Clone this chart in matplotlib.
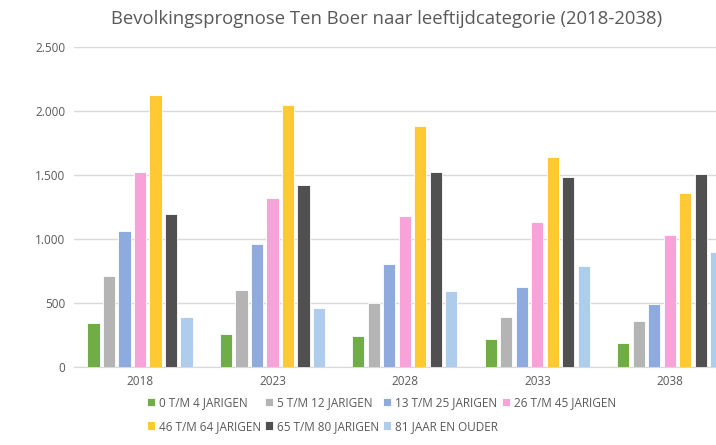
import matplotlib.pyplot as plt
import numpy as np

jaren = ["2018", "2023", "2028", "2033", "2038"]
categorieen = ["0 T/M 4 JARIGEN", "5 T/M 12 JARIGEN", "13 T/M 25 JARIGEN", "26 T/M 45 JARIGEN",
               "46 T/M 64 JARIGEN", "65 T/M 80 JARIGEN", "81 JAAR EN OUDER"]

aantallen = {
    "0 T/M 4 JARIGEN": [345, 260, 245, 220, 190],
    "5 T/M 12 JARIGEN": [710, 605, 500, 395, 360],
    "13 T/M 25 JARIGEN": [1065, 960, 805, 625, 495],
    "26 T/M 45 JARIGEN": [1525, 1320, 1180, 1135, 1030],
    "46 T/M 64 JARIGEN": [2130, 2050, 1885, 1645, 1360],
    "65 T/M 80 JARIGEN": [1200, 1425, 1525, 1485, 1510],
    "81 JAAR EN OUDER": [390, 460, 595, 790, 900],
}

colors = ['#70AD47', '#B4B4B4', '#8FAADC', '#F7A3DA', '#FFC933', '#505050', '#AECDEC']

plt.rcParams['font.family'] = ['Open Sans', 'DejaVu Sans']

fig = plt.figure(figsize=(7.16, 4.45), dpi=100)
ax = fig.add_axes([0.103, 0.175, 0.925, 0.719])

x = np.arange(len(jaren))
pitch = 0.117
width = 0.092

for i, cat in enumerate(categorieen):
    offset = (i - 3) * pitch
    ax.bar(x + offset, aantallen[cat], width, color=colors[i], label=cat,
           edgecolor='white', linewidth=0.6, zorder=3)

ax.set_xlim(-0.5, len(jaren) - 0.5)
ax.set_ylim(0, 2500)
ax.set_yticks(np.arange(0, 2501, 500))
ax.set_yticklabels(["0", "500", "1.000", "1.500", "2.000", "2.500"])
ax.set_xticks(x)
ax.set_xticklabels(jaren)
ax.tick_params(axis='both', length=0, labelsize=8.5, colors='#595959', pad=6)
ax.grid(axis='y', color='#D9D9D9', linewidth=1, zorder=0)
for s in ['top', 'right', 'left']:
    ax.spines[s].set_visible(False)
ax.spines['bottom'].set_color('#D9D9D9')

fig.text(0.54, 0.958, "Bevolkingsprognose Ten Boer naar leeftijdcategorie (2018-2038)",
         ha='center', va='center', fontsize=13.3, color='#595959')

# legenda rij voor rij vullen (matplotlib vult per kolom)
handles, labels = ax.get_legend_handles_labels()
volgorde = [0, 4, 1, 5, 2, 6, 3]
fig.legend([handles[k] for k in volgorde], [labels[k] for k in volgorde],
           loc='upper left', bbox_to_anchor=(0.205, 0.11), ncol=4,
           frameon=False, fontsize=8.5, labelcolor='#595959', handlelength=0.7,
           handleheight=0.7, handletextpad=0.3, columnspacing=0.35, labelspacing=0.9,
           borderaxespad=0, borderpad=0)

fig.savefig("out.png", dpi=100)
